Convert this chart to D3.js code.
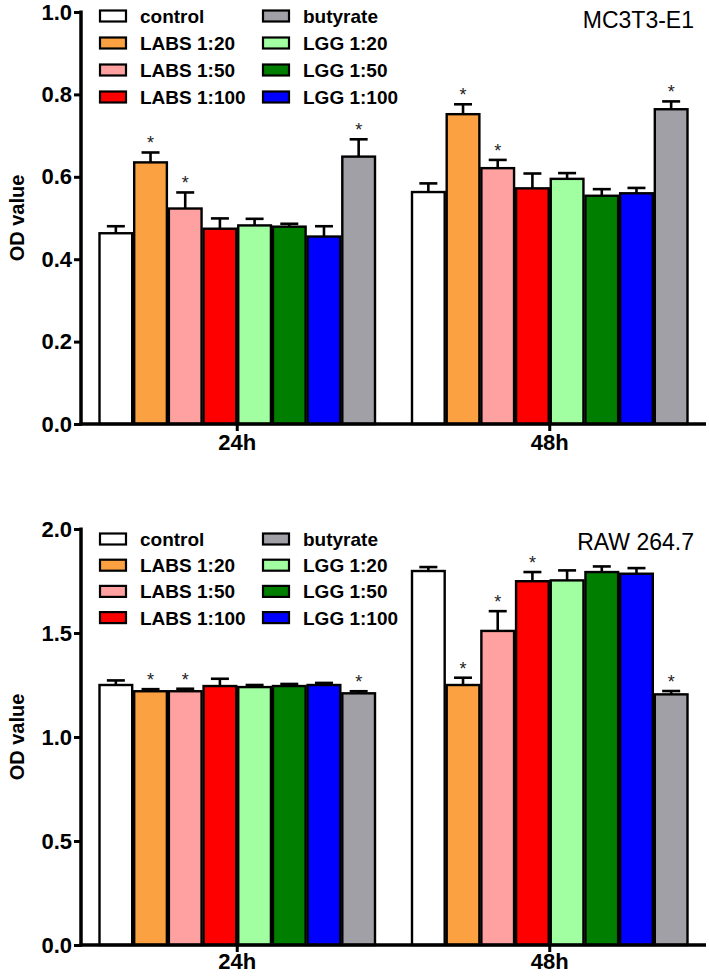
<!DOCTYPE html>
<html>
<head>
<meta charset="utf-8">
<script src="https://cdn.jsdelivr.net/npm/d3@7"></script>
<style>
  body { margin: 0; background: #fff; }
  svg { display: block; }
  text { font-family: "Liberation Sans", Arial, Helvetica, sans-serif; }
</style>
</head>
<body>
<svg id="chart" width="709" height="978"></svg>
<script>
// ---------- data ----------
const timepoints = ["24h", "48h"];
const groups = ["control", "LABS 1:20", "LABS 1:50", "LABS 1:100", "LGG 1:20", "LGG 1:50", "LGG 1:100", "butyrate"];
const colors = ["#ffffff", "#fba142", "#ffa1a1", "#ff0000", "#a1ffa1", "#007e00", "#0000ff", "#a0a0a6"];
const legendCol1 = ["control", "LABS 1:20", "LABS 1:50", "LABS 1:100"];
const legendCol2 = ["butyrate", "LGG 1:20", "LGG 1:50", "LGG 1:100"];

// MC3T3-E1 (top)
const mc24 = [0.463, 0.635, 0.523, 0.474, 0.482, 0.479, 0.455, 0.649];
const mc24err = [0.017, 0.024, 0.039, 0.025, 0.016, 0.007, 0.025, 0.042];
const mc48 = [0.563, 0.752, 0.621, 0.572, 0.595, 0.554, 0.560, 0.764];
const mc48err = [0.021, 0.024, 0.020, 0.036, 0.014, 0.016, 0.013, 0.019];
const mc24star = [0, 1, 1, 0, 0, 0, 0, 1];
const mc48star = [0, 1, 1, 0, 0, 0, 0, 1];
const mcTicks = [0.0, 0.2, 0.4, 0.6, 0.8, 1.0];

// RAW 264.7 (bottom)
const raw24 = [1.250, 1.220, 1.220, 1.245, 1.240, 1.245, 1.250, 1.210];
const raw24err = [0.022, 0.010, 0.012, 0.035, 0.010, 0.010, 0.010, 0.010];
const raw48 = [1.798, 1.250, 1.510, 1.749, 1.753, 1.793, 1.785, 1.205];
const raw48err = [0.019, 0.035, 0.095, 0.044, 0.048, 0.027, 0.027, 0.016];
const raw24star = [0, 1, 1, 0, 0, 0, 0, 1];
const raw48star = [0, 1, 1, 1, 0, 0, 0, 1];
const rawTicks = [0.0, 0.5, 1.0, 1.5, 2.0];

const panels = [
  { title: "MC3T3-E1", domain: [0, 1], ticks: mcTicks, fmt: d3.format(".1f"),
    vals: [mc24, mc48], errs: [mc24err, mc48err], stars: [mc24star, mc48star],
    y0: 424, y1: 12, titleY: 28, legendY: 16, legendStep: 27, xPad: 3 },
  { title: "RAW 264.7", domain: [0, 2], ticks: rawTicks, fmt: d3.format(".1f"),
    vals: [raw24, raw48], errs: [raw24err, raw48err], stars: [raw24star, raw48star],
    y0: 945, y1: 529, titleY: 550, legendY: 539, legendStep: 26.2, xPad: 1 }
];

// ---------- drawing ----------
const svg = d3.select("#chart");
const axisX = 81, plotRight = 706;

const x = d3.scaleBand().domain(timepoints).range([axisX, plotRight]).paddingInner(0).paddingOuter(0);
const xi = d3.scaleBand().domain(groups).range([17.5, x.bandwidth() - 17.5]).padding(0);
const color = d3.scaleOrdinal().domain(groups).range(colors);

panels.forEach(p => {
  const y = d3.scaleLinear().domain(p.domain).range([p.y0, p.y1]);
  const g = svg.append("g");

  // bars
  timepoints.forEach((t, ti) => {
    const gg = g.append("g").attr("transform", `translate(${x(t)},0)`);
    const rows = groups.map((name, i) => ({ name, v: p.vals[ti][i], e: p.errs[ti][i], s: p.stars[ti][i] }));
    gg.selectAll("line.err").data(rows).join("line")
      .attr("x1", d => xi(d.name) + xi.bandwidth() / 2)
      .attr("x2", d => xi(d.name) + xi.bandwidth() / 2)
      .attr("y1", d => y(d.v)).attr("y2", d => y(d.v + d.e))
      .attr("stroke", "#000").attr("stroke-width", 2.6);
    gg.selectAll("line.cap").data(rows).join("line")
      .attr("x1", d => xi(d.name) + xi.bandwidth() / 2 - 9)
      .attr("x2", d => xi(d.name) + xi.bandwidth() / 2 + 9)
      .attr("y1", d => y(d.v + d.e)).attr("y2", d => y(d.v + d.e))
      .attr("stroke", "#000").attr("stroke-width", 2.6);
    gg.selectAll("rect").data(rows).join("rect")
      .attr("x", d => xi(d.name) + 1)
      .attr("width", xi.bandwidth() - 2)
      .attr("y", d => y(d.v))
      .attr("height", d => y(0) - y(d.v))
      .attr("fill", d => color(d.name))
      .attr("stroke", "#000").attr("stroke-width", 2.4);
    gg.selectAll("text.star").data(rows.filter(d => d.s)).join("text")
      .attr("x", d => xi(d.name) + xi.bandwidth() / 2)
      .attr("y", d => y(d.v + d.e) - 3)
      .attr("text-anchor", "middle")
      .attr("font-size", 18)
      .attr("fill", "#222")
      .text("*");
  });

  // y axis
  const ya = g.append("g").attr("transform", `translate(${axisX},0)`)
    .call(d3.axisLeft(y).tickValues(p.ticks).tickFormat(p.fmt).tickSize(7).tickPadding(2));
  ya.select(".domain").attr("stroke", "#000").attr("stroke-width", 3.5)
    .attr("d", `M0,${p.y1 - 1.5}V${p.y0 + 1.5}`);
  ya.selectAll(".tick line").attr("stroke", "#000").attr("stroke-width", 3);
  ya.selectAll(".tick text").attr("font-size", 22).attr("font-weight", "bold").attr("fill", "#000")
    .attr("font-family", "'Liberation Sans', Arial, sans-serif");

  // x axis
  const xa = g.append("g").attr("transform", `translate(0,${p.y0})`)
    .call(d3.axisBottom(x).tickSize(7).tickPadding(p.xPad));
  xa.select(".domain").attr("stroke", "#000").attr("stroke-width", 3.5)
    .attr("d", `M${axisX - 1.5},0H${plotRight}`);
  xa.selectAll(".tick line").attr("stroke", "#000").attr("stroke-width", 3);
  xa.selectAll(".tick text").attr("font-size", 22).attr("font-weight", "bold").attr("fill", "#000")
    .attr("font-family", "'Liberation Sans', Arial, sans-serif");

  // y label
  g.append("text")
    .attr("transform", `translate(24,${(p.y0 + p.y1) / 2}) rotate(-90)`)
    .attr("text-anchor", "middle")
    .attr("font-size", 20).attr("font-weight", "bold")
    .text("OD value");

  // title
  g.append("text").attr("x", 694).attr("y", p.titleY)
    .attr("text-anchor", "end").attr("font-size", 23)
    .text(p.title);

  // legend
  [[legendCol1, 100], [legendCol2, 263]].forEach(([items, lx]) => {
    items.forEach((name, i) => {
      const cy = p.legendY + i * p.legendStep;
      g.append("rect").attr("x", lx).attr("y", cy - 5.5).attr("width", 26).attr("height", 11)
        .attr("fill", color(name)).attr("stroke", "#000").attr("stroke-width", 2.2);
      g.append("text").attr("x", lx + 40).attr("y", cy + 7)
        .attr("font-size", 19).attr("font-weight", "bold").text(name);
    });
  });
});
</script>
</body>
</html>
